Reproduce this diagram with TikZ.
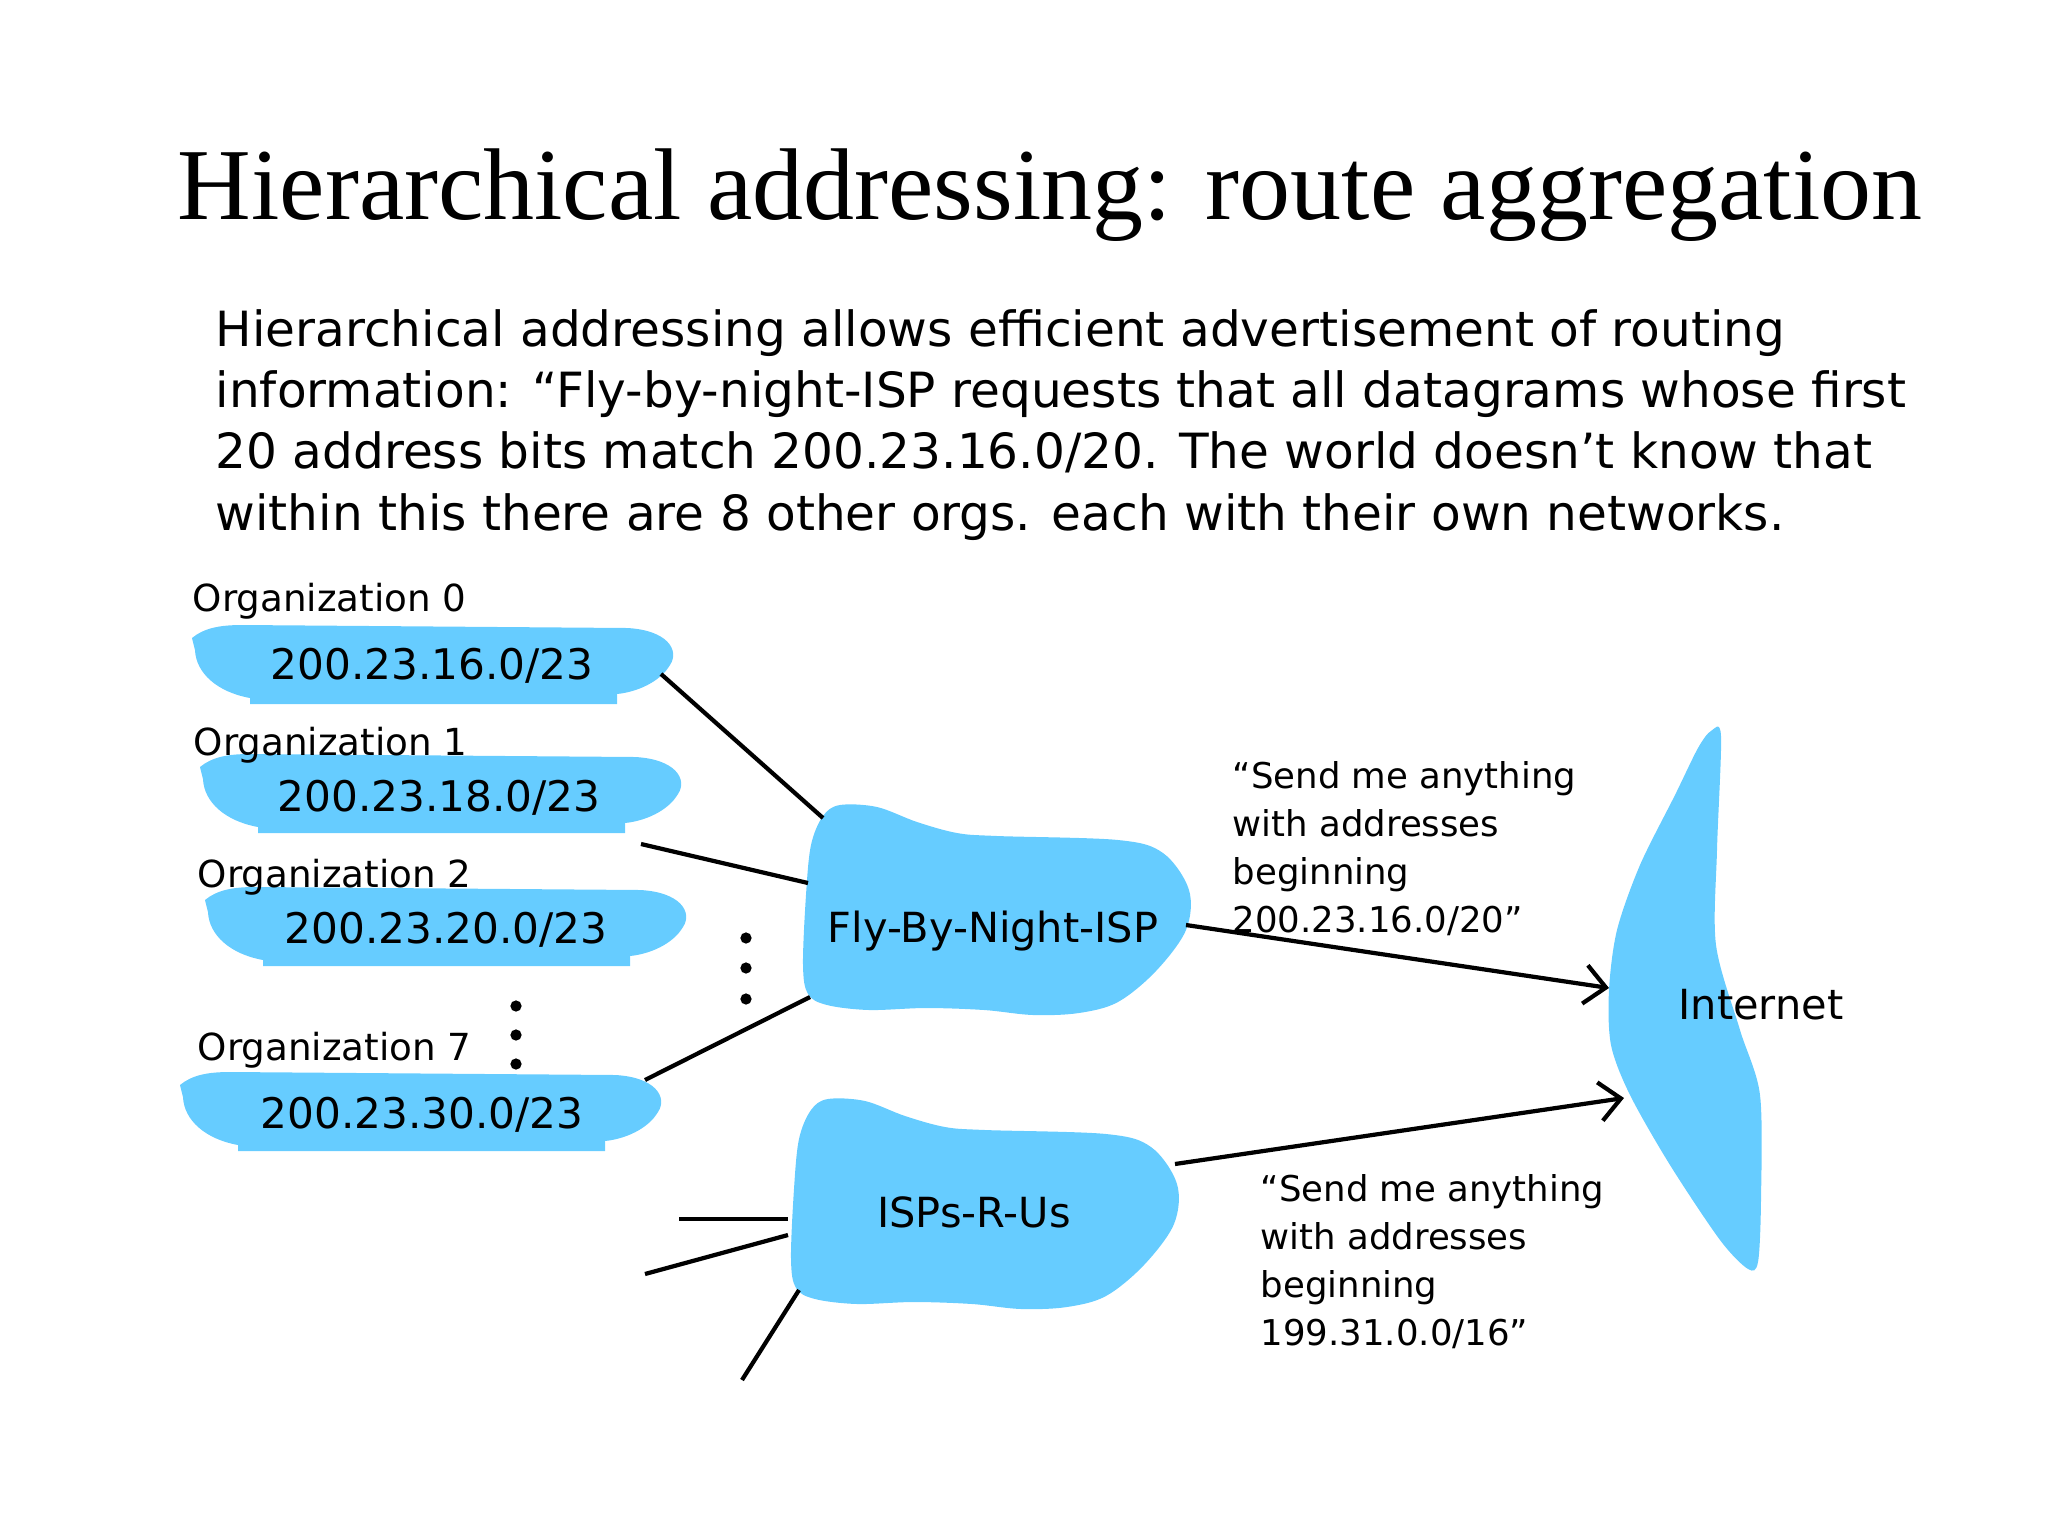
\documentclass[tikz,border=0pt]{standalone}
\usepackage{fontspec}
\setmainfont{Liberation Serif}
\newfontfamily\handfont{DejaVu Sans}
\usetikzlibrary{arrows.meta}
\definecolor{cloudblue}{HTML}{66CCFF}

\begin{document}
\begin{tikzpicture}[
    x=0.01cm, y=-0.01cm,
    every node/.style={inner sep=0pt, font=\handfont},
    titletext/.style={anchor=base, font=\rmfamily\fontsize{29}{34}\selectfont},
    introtext/.style={anchor=base west, align=left,
      font=\handfont\fontsize{13.8}{17.35}\selectfont},
    orglabel/.style={anchor=base west, font=\handfont\fontsize{10.6}{12}\selectfont},
    orgprefix/.style={font=\handfont\fontsize{12}{14}\selectfont},
    isplabel/.style={font=\handfont\fontsize{11.8}{13}\selectfont},
    advtext/.style={anchor=base west, align=left,
      font=\handfont\fontsize{10.1}{13.65}\selectfont},
    netlink/.style={line width=1.2pt},
    advroute/.style={line width=1.2pt,
      -{Straight Barb[length=6pt, width=11pt, line width=1.2pt]}},
    orgblob/.pic={
      \fill[cloudblue] (-240,-27) .. controls (-228,-37) and (-212,-40) .. (-190,-40)
        -- (195,-37) .. controls (235,-35) and (248,-15) .. (238,0)
        .. controls (228,17) and (205,27) .. (185,29) -- (185,39) -- (-182,39)
        -- (-182,33) .. controls (-215,27) and (-236,8) .. (-237,-15) -- cycle;
    },
    ispblob/.pic={
      \fill[cloudblue] plot[smooth cycle, tension=0.55] coordinates {
        (-174,-94) (-157,-105) (-120,-103) (-80,-88) (-40,-77) (0,-74)
        (121,-70) (166,-57) (192,-20) (189,20) (159,61) (121,92) (82,103)
        (36,105) (-13,100) (-71,98) (-128,100) (-170,95) (-189,84)
        (-194,55) (-191,-15) (-186,-65)};
    },
  ]
  \useasboundingbox (0,0) rectangle (2048,1536);

  % Title and text (multi-line nodes sit on their last baseline)
  \node[titletext] (title) at (1050,219) {Hierarchical addressing: route aggregation};
  \node[introtext] (intro) at (215,530)
    {Hierarchical addressing allows efficient advertisement of routing\\
     information: “Fly-by-night-ISP requests that all datagrams whose first\\
     20 address bits match 200.23.16.0/20. The world doesn’t know that\\
     within this there are 8 other orgs. each with their own networks.};

  % Organizations
  \pic at (432,665) {orgblob};
  \pic at (440,794) {orgblob};
  \pic at (445,927) {orgblob};
  \pic at (420,1112) {orgblob};
  \node[orglabel] (lab0) at (192,611) {Organization 0};
  \node[orglabel] (lab1) at (193,755) {Organization 1};
  \node[orglabel] (lab2) at (197,887) {Organization 2};
  \node[orglabel] (lab7) at (197,1060) {Organization 7};
  \node[orgprefix] (org0) at (432,666) {200.23.16.0/23};
  \node[orgprefix] (org1) at (439,798) {200.23.18.0/23};
  \node[orgprefix] (org2) at (446,930) {200.23.20.0/23};
  \node[orgprefix] (org7) at (422,1115) {200.23.30.0/23};

  % ISPs and Internet
  \pic at (997,910) {ispblob};
  \pic at (985,1204) {ispblob};
  \fill[cloudblue] plot[smooth cycle, tension=0.5] coordinates {
    (1711,731) (1721,736) (1717,850) (1716,945) (1740,1030) (1760,1095)
    (1761,1200) (1758,1262) (1748,1269) (1720,1240) (1670,1165) (1630,1095)
    (1611,1045) (1609,990) (1617,930) (1640,865) (1675,795) (1698,748)};
  \node[isplabel] (fbn) at (993,931) {Fly-By-Night-ISP};
  \node[isplabel] (rus) at (974,1212) {ISPs-R-Us};
  \node[isplabel] (net) at (1761,1005) {Internet};

  % Attachment points
  \coordinate (org0-out) at (661,674);
  \coordinate (org1-out) at (641,844);
  \coordinate (org7-out) at (645,1080);
  \coordinate (fbn-in0) at (823,818);
  \coordinate (fbn-in1) at (808,883);
  \coordinate (fbn-in7) at (810,997);
  \coordinate (fbn-out) at (1186,925);
  \coordinate (rus-out) at (1175,1164);
  \coordinate (net-in1) at (1609,988);
  \coordinate (net-in2) at (1624,1098);
  \coordinate (rus-in0) at (788,1219);
  \coordinate (rus-in1) at (788,1235);
  \coordinate (rus-in2) at (799,1290);
  \coordinate (stub0) at (679,1219);
  \coordinate (stub1) at (645,1274);
  \coordinate (stub2) at (742,1380);

  % Links
  \draw[netlink] (org0-out) -- (fbn-in0);
  \draw[netlink] (org1-out) -- (fbn-in1);
  \draw[netlink] (org7-out) -- (fbn-in7);
  \draw[netlink] (stub0) -- (rus-in0);
  \draw[netlink] (stub1) -- (rus-in1);
  \draw[netlink] (stub2) -- (rus-in2);

  % Dots
  \foreach \y in {1006,1035,1064} \fill (516,\y) circle (1.6pt);
  \foreach \y in {938,968,999} \fill (746,\y) circle (1.6pt);

  % Advertisements
  \draw[advroute] (fbn-out) -- (net-in1);
  \draw[advroute] (rus-out) -- (net-in2);
  \node[advtext] (adv1) at (1232,932)
    {“Send me anything\\ with addresses\\ beginning\\ 200.23.16.0/20”};
  \node[advtext] (adv2) at (1260,1345)
    {“Send me anything\\ with addresses\\ beginning\\ 199.31.0.0/16”};
\end{tikzpicture}
\end{document}
